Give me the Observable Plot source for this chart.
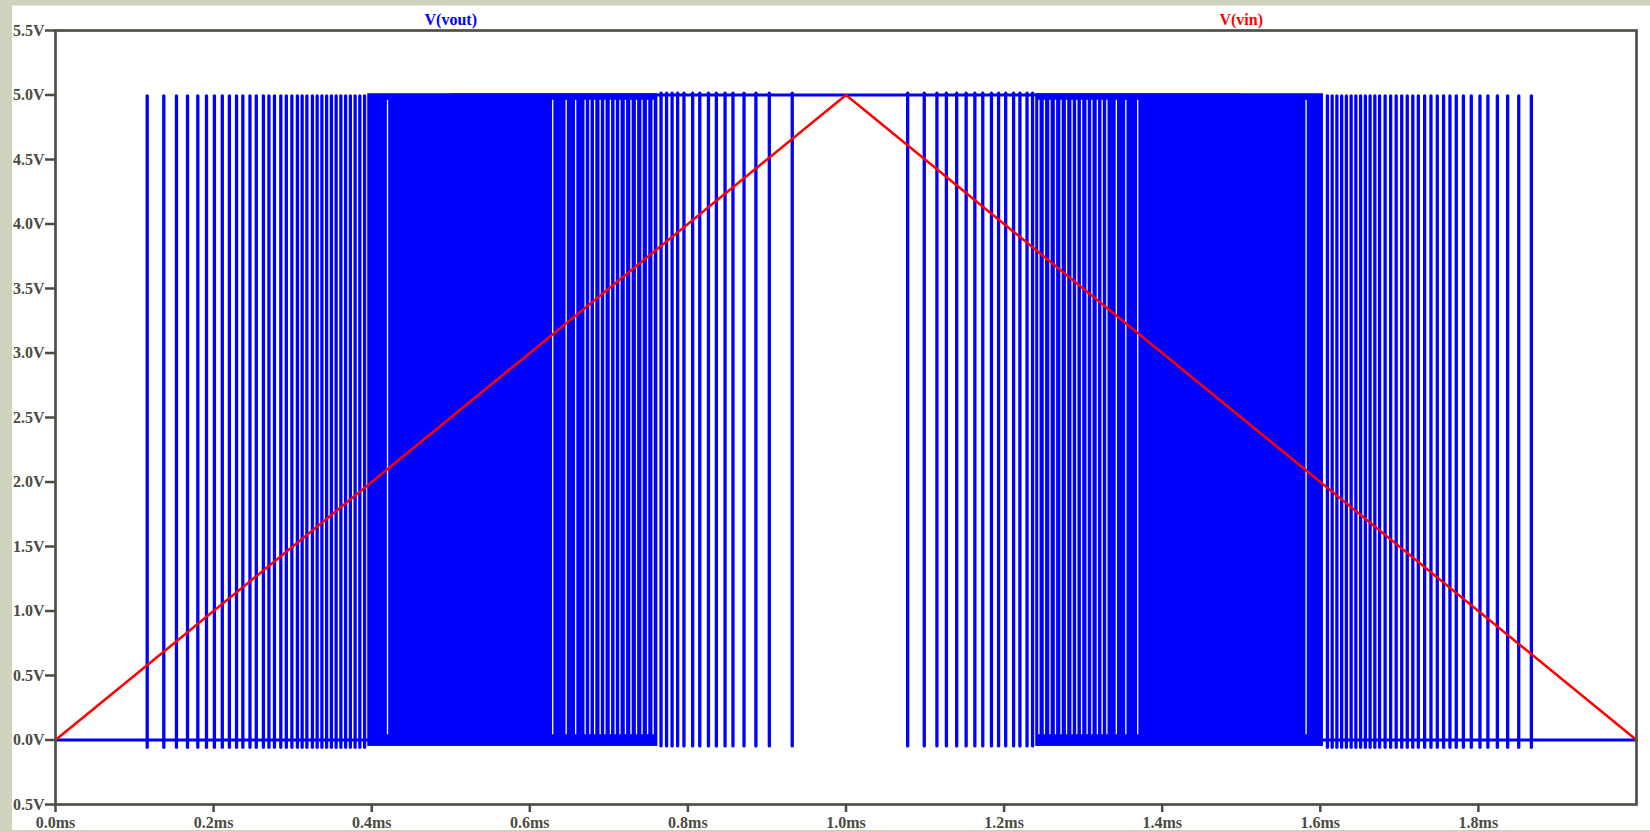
<!DOCTYPE html>
<html>
<head>
<meta charset="utf-8">
<script src="https://cdn.jsdelivr.net/npm/d3@7"></script>
<script src="https://cdn.jsdelivr.net/npm/@observablehq/plot@0.6"></script>
<style>
  html, body { margin: 0; padding: 0; background: #cfd3bd; }
  #panel { position: absolute; left: 12px; top: 5px; width: 1638px; height: 824px; background: #ffffff; border-top: 1px solid #e4e6dc; }
</style>
</head>
<body>
<div id="panel"></div>
<script>
// ---- data (times in ms, voltages in V) ----
const xTicks = [0, 0.2, 0.4, 0.6, 0.8, 1.0, 1.2, 1.4, 1.6, 1.8];
const yTicks = [-0.5, 0, 0.5, 1.0, 1.5, 2.0, 2.5, 3.0, 3.5, 4.0, 4.5, 5.0, 5.5];
const traceNames = ["V(vout)", "V(vin)"];
const traceColors = ["#0000ff", "#ff0000"];

// V(vin): triangle
const vinTime = [0, 1.0, 2.0];
const vinVolt = [0, 5.0, 0];

// V(vout): idle level segments
const voutLowSegments = [[0, 0.5], [1.5, 2.0]];
const voutHighSegments = [[0.5, 1.5]];

// V(vout): isolated pulses while idle low (rising spikes)
const pulsesIdleLow = [
  0.116, 0.137, 0.153, 0.167, 0.180, 0.191, 0.201, 0.211, 0.220, 0.229,
  0.237, 0.246, 0.254, 0.263, 0.270, 0.277, 0.285, 0.292, 0.299, 0.306,
  0.312, 0.318, 0.325, 0.331, 0.337, 0.343, 0.349, 0.355, 0.361, 0.367,
  0.373, 0.379, 0.385, 0.391,
  1.609, 1.615, 1.621, 1.627, 1.633, 1.639, 1.645, 1.651, 1.657, 1.663,
  1.669, 1.675, 1.682, 1.689, 1.696, 1.703, 1.710, 1.717, 1.724, 1.732,
  1.740, 1.748, 1.756, 1.764, 1.772, 1.781, 1.791, 1.802, 1.812, 1.824,
  1.837, 1.851, 1.867
];
// V(vout): isolated dips while idle high (falling spikes)
const pulsesIdleHigh = [
  0.766, 0.773, 0.780, 0.787, 0.795, 0.806, 0.815, 0.826, 0.836, 0.847,
  0.857, 0.871, 0.886, 0.903, 0.932,
  1.078, 1.099, 1.115, 1.127, 1.140, 1.152, 1.163, 1.173, 1.184, 1.193,
  1.202, 1.212, 1.220, 1.229, 1.236
];
// V(vout): spans where switching is too dense to resolve
const denseSpans = [[0.395, 0.762], [1.240, 1.604]];
// V(vout): short idle gaps inside dense spans
const denseGaps = [
  0.420, 0.629, 0.646, 0.658, 0.670, 0.676, 0.682, 0.689, 0.695, 0.702,
  0.708, 0.714, 0.721, 0.728, 0.735, 0.742, 0.749, 0.756,
  1.244, 1.251, 1.258, 1.265, 1.272, 1.279, 1.286, 1.292, 1.298, 1.305,
  1.311, 1.318, 1.324, 1.330, 1.342, 1.354, 1.369, 1.582
];

// ---- build tables ----
const vin = vinTime.map((t, i) => ({t, v: vinVolt[i]}));
const labels = traceNames.map((name, i) => ({name, color: traceColors[i], pos: i}));

const xDomain = [0, 2.0];
const yDomain = [-0.5, 5.5];
const axisColor = "#4b4b42";
const BLUE = traceColors[0], RED = traceColors[1];

const chart = Plot.plot({
  width: 1638,
  height: 824,
  marginLeft: 43,
  marginRight: 14,
  marginTop: 24,
  marginBottom: 26,
  x: {domain: xDomain},
  y: {domain: yDomain},
  style: {fontFamily: "'Liberation Serif', 'DejaVu Serif', serif", fontSize: "16px", fontWeight: "bold", color: axisColor, background: "transparent", overflow: "visible"},
  marks: [
    Plot.rect(denseSpans, {x1: d => d[0], x2: d => d[1], y1: -0.05, y2: 5.01, fill: BLUE}),
    Plot.ruleX(denseGaps, {x: d => d, y1: 0.04, y2: 4.96, stroke: "white", strokeWidth: 1.3}),
    Plot.ruleY(voutLowSegments, {y: 0, x1: d => d[0], x2: d => d[1], stroke: BLUE, strokeWidth: 3}),
    Plot.ruleY(voutHighSegments, {y: 5.0, x1: d => d[0], x2: d => d[1], stroke: BLUE, strokeWidth: 3}),
    Plot.ruleX(pulsesIdleLow, {x: d => d, y1: -0.06, y2: 4.99, stroke: BLUE, strokeWidth: 3.3, strokeLinecap: "round"}),
    Plot.ruleX(pulsesIdleHigh, {x: d => d, y1: -0.05, y2: 5.01, stroke: BLUE, strokeWidth: 3.3, strokeLinecap: "round"}),
    Plot.line(vin, {x: "t", y: "v", stroke: RED, strokeWidth: 2.5}),
    Plot.frame({stroke: "#4f4f48", strokeWidth: 2.7}),
    Plot.axisX({ticks: xTicks, tickFormat: d => d.toFixed(1) + "ms", tickSize: 8, tickPadding: 4, strokeWidth: 2.5, stroke: axisColor, label: null, fontWeight: "bold"}),
    Plot.axisY({ticks: yTicks, tickFormat: d => Math.abs(d).toFixed(1) + "V", tickSize: 10, tickPadding: 1, strokeWidth: 2.5, stroke: axisColor, label: null, fontWeight: "bold"}),
    Plot.text(labels, {
      x: d => xDomain[0] + (xDomain[1] - xDomain[0]) * (d.pos === 0 ? 0.25 : 0.75),
      y: yDomain[1],
      text: "name",
      fill: d => d.color,
      dy: -11,
      fontWeight: "bold",
      fontSize: 16,
      textAnchor: "middle",
      lineAnchor: "middle"
    })
  ]
});
document.getElementById("panel").appendChild(chart);
</script>
</body>
</html>
